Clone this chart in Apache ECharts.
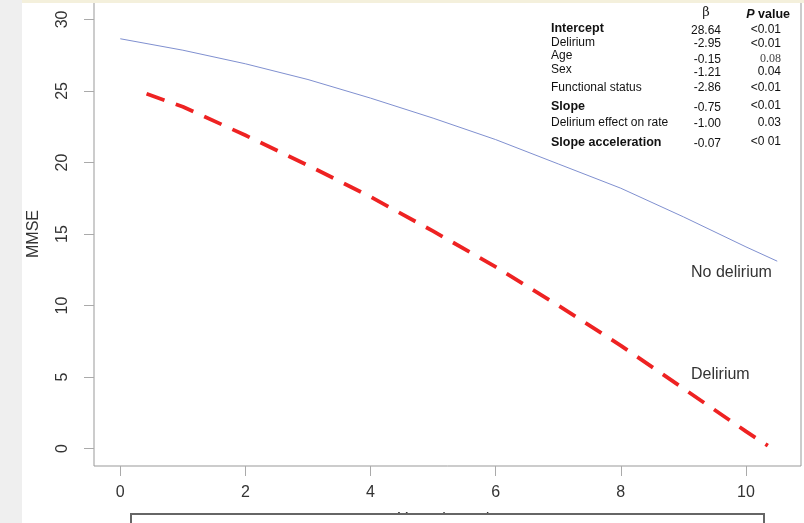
<!DOCTYPE html>
<html>
<head>
<meta charset="utf-8">
<script src="https://cdn.jsdelivr.net/npm/echarts@6/dist/echarts.min.js"></script>
<style>html,body{margin:0;padding:0;background:#fff;}#c{width:804px;height:523px;}</style>
</head>
<body>
<div id="c"></div>
<script>
// ---- data ----
var xTicks = [0, 2, 4, 6, 8, 10];
var yTicks = [0, 5, 10, 15, 20, 25, 30];
var noDelYears = [0, 1, 2, 3, 4, 5, 6, 7, 8, 9, 10, 10.5];
var noDelMMSE  = [28.65, 27.85, 26.9, 25.8, 24.5, 23.1, 21.6, 19.9, 18.2, 16.2, 14.1, 13.1];
var delYears = [0.42, 1, 2, 3, 4, 5, 6, 7, 8, 9, 10, 10.35];
var delMMSE  = [24.8, 23.9, 21.9, 19.8, 17.6, 15.2, 12.7, 10.0, 7.2, 4.2, 1.2, 0.2];
var tableLabels = ['Intercept', 'Delirium', 'Age', 'Sex', 'Functional status', 'Slope', 'Delirium effect on rate', 'Slope acceleration'];
var tableBold   = [true, false, false, false, false, true, false, true];
var tableBeta   = ['28.64', '-2.95', '-0.15', '-1.21', '-2.86', '-0.75', '-1.00', '-0.07'];
var tableP      = ['<0.01', '<0.01', '0.08', '0.04', '<0.01', '<0.01', '0.03', '<0 01'];
var curveLabels = ['No delirium', 'Delirium'];

function pairs(xs, ys) { return xs.map(function (x, i) { return [x, ys[i]]; }); }

var chart = echarts.init(document.getElementById('c'), null, { renderer: 'canvas' });

var FONT = '"Liberation Sans", Arial, Helvetica, sans-serif';
var labelY = [29, 43, 56, 70, 88, 107, 123, 143];
var betaY  = [31, 44, 60, 73, 88, 108, 124, 144];
var pY     = [30, 44, 59, 72, 88, 106, 123, 142];

var graphics = [
  { type: 'rect', z: 0, shape: { x: 0, y: 0, width: 22, height: 523 }, style: { fill: '#efefef' } },
  { type: 'rect', z: 0, shape: { x: 22, y: 0, width: 782, height: 3 }, style: { fill: '#f4f0dc' } },
  { type: 'text', z: 10, x: 706, y: 13, style: { text: 'β', font: '13px "DejaVu Serif", serif', fill: '#222', align: 'center', verticalAlign: 'middle' } },
  { type: 'text', z: 10, x: 790, y: 15, style: { text: '{i|P} value', align: 'right', verticalAlign: 'middle', fill: '#111', font: 'bold 12.5px ' + FONT,
      rich: { i: { fontStyle: 'italic', fontWeight: 'bold', fontSize: 12.5, fontFamily: FONT, fill: '#111' } } } },
  { type: 'text', z: 10, left: 691, top: 265, style: { text: curveLabels[0], font: '16px ' + FONT, fill: '#333' } },
  { type: 'text', z: 10, left: 691, top: 367, style: { text: curveLabels[1], font: '16px ' + FONT, fill: '#333' } },
  { type: 'rect', z: 100, shape: { x: 131, y: 514, width: 633, height: 20 }, style: { fill: '#fff', stroke: '#666', lineWidth: 2 } }
];
tableLabels.forEach(function (t, i) {
  graphics.push({ type: 'text', z: 10, x: 551, y: labelY[i], style: { text: t, font: (tableBold[i] ? 'bold 12.5px ' : '12px ') + FONT, fill: '#111', verticalAlign: 'middle' } });
  graphics.push({ type: 'text', z: 10, x: 721, y: betaY[i], style: { text: tableBeta[i], font: '12px ' + FONT, fill: '#111', align: 'right', verticalAlign: 'middle' } });
  var serif = (tableP[i] === '0.08');
  graphics.push({ type: 'text', z: 10, x: 781, y: pY[i], style: { text: tableP[i], font: serif ? '12px "Liberation Serif", serif' : '12px ' + FONT, fill: serif ? '#444' : '#111', align: 'right', verticalAlign: 'middle' } });
});

chart.setOption({
  animation: false,
  backgroundColor: '#fff',
  grid: { left: 94, top: 2, width: 707, height: 464, show: true, borderColor: '#999', borderWidth: 1, backgroundColor: 'transparent', outerBoundsMode: 'none', containLabel: false },
  xAxis: {
    type: 'value', min: -0.42, max: 10.88,
    name: 'Years in study', nameLocation: 'middle', nameGap: 46,
    nameTextStyle: { fontFamily: FONT, fontSize: 16, color: '#333' },
    axisLine: { show: false, onZero: false },
    splitLine: { show: false },
    axisTick: { show: true, length: 10, lineStyle: { color: '#aaa' }, customValues: xTicks },
    axisLabel: { margin: 19, fontFamily: FONT, fontSize: 16, color: '#333', customValues: xTicks }
  },
  yAxis: {
    type: 'value', min: -1.22, max: 31.22,
    name: 'MMSE', nameLocation: 'middle', nameGap: 52, nameRotate: 90,
    nameTextStyle: { fontFamily: FONT, fontSize: 16, color: '#333' },
    axisLine: { show: false, onZero: false },
    splitLine: { show: false },
    axisTick: { show: true, length: 10, lineStyle: { color: '#aaa' }, customValues: yTicks },
    axisLabel: { rotate: 90, margin: 23, fontFamily: FONT, fontSize: 16, color: '#333', customValues: yTicks }
  },
  series: [
    { type: 'line', name: curveLabels[0], data: pairs(noDelYears, noDelMMSE), symbol: 'none', smooth: false,
      lineStyle: { color: '#8090d0', width: 1 }, z: 3 },
    { type: 'line', name: curveLabels[1], data: pairs(delYears, delMMSE), symbol: 'none', smooth: false,
      lineStyle: { color: '#ee2222', width: 3.8, type: [19, 12] }, z: 3 }
  ],
  graphic: graphics
});
</script>
</body>
</html>
